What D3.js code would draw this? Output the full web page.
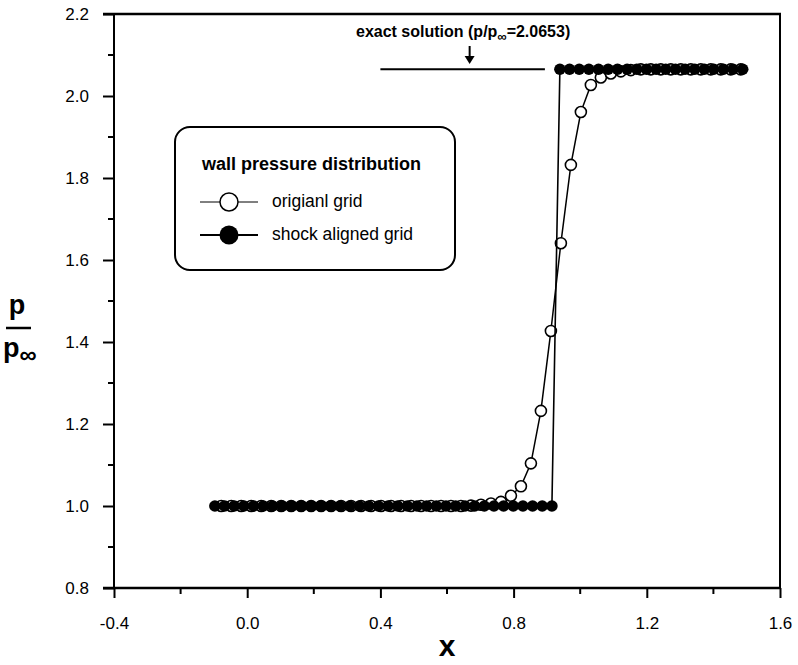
<!DOCTYPE html>
<html><head><meta charset="utf-8">
<script src="https://cdn.jsdelivr.net/npm/d3@7"></script>
<style>body{margin:0;background:#fff}svg{display:block}</style>
</head><body>
<script>
// ---- data ----
const xTicks = [-0.4, 0.0, 0.4, 0.8, 1.2, 1.6];
const xTickLabels = ["-0.4", "0.0", "0.4", "0.8", "1.2", "1.6"];
const yTicks = [0.8, 1.0, 1.2, 1.4, 1.6, 1.8, 2.0, 2.2];
const yTickLabels = ["0.8", "1.0", "1.2", "1.4", "1.6", "1.8", "2.0", "2.2"];

const shockX = [-0.097, -0.068, -0.039, -0.010, 0.019, 0.048, 0.076, 0.105, 0.134, 0.163, 0.192, 0.221,
  0.250, 0.279, 0.308, 0.337, 0.365, 0.394, 0.423, 0.452, 0.481, 0.510, 0.539, 0.568, 0.597, 0.626,
  0.654, 0.683, 0.712, 0.741, 0.770, 0.799, 0.828, 0.857, 0.886, 0.915,
  0.939, 0.968, 0.997, 1.026, 1.055, 1.084, 1.112, 1.141, 1.170, 1.199, 1.228, 1.257, 1.286, 1.315,
  1.344, 1.373, 1.401, 1.430, 1.459, 1.488];
const shockY = [1, 1, 1, 1, 1, 1, 1, 1, 1, 1, 1, 1, 1, 1, 1, 1, 1, 1, 1, 1, 1, 1, 1, 1, 1, 1,
  1, 1, 1, 1, 1, 1, 1, 1, 1, 1,
  2.0653, 2.0653, 2.0653, 2.0653, 2.0653, 2.0653, 2.0653, 2.0653, 2.0653, 2.0653, 2.0653, 2.0653,
  2.0653, 2.0653, 2.0653, 2.0653, 2.0653, 2.0653, 2.0653, 2.0653];

const origX = [-0.078, -0.048, -0.018, 0.012, 0.042, 0.072, 0.102, 0.132, 0.162, 0.192, 0.222, 0.252,
  0.282, 0.312, 0.342, 0.372, 0.402, 0.432, 0.462, 0.492, 0.522, 0.552, 0.582, 0.612, 0.642, 0.672,
  0.702, 0.732, 0.762, 0.792, 0.822, 0.852, 0.882, 0.912, 0.942, 0.972, 1.002, 1.032, 1.062, 1.092,
  1.122, 1.152, 1.182, 1.212, 1.242, 1.272, 1.302, 1.332, 1.362, 1.392, 1.422, 1.452, 1.482];
const origY = [1, 1, 1, 1, 1, 1, 1, 1, 1, 1, 1, 1, 1, 1, 1, 1, 1, 1, 1, 1, 1, 1, 1, 1, 1, 1.001,
  1.003, 1.006, 1.010, 1.025, 1.048, 1.104, 1.232, 1.427, 1.641, 1.832, 1.961, 2.027, 2.045, 2.055,
  2.060, 2.063, 2.065, 2.065, 2.065, 2.065, 2.065, 2.065, 2.065, 2.065, 2.065, 2.065, 2.065];

const exactValue = 2.0653;
const exactRange = [0.4, 0.894];
const arrowX = 0.668;
const legendTitle = "wall pressure distribution";
const legendLabels = ["origianl grid", "shock aligned grid"];

// ---- layout ----
const W = 798, H = 665;
const L = 114, R = 780, T = 14, B = 588;
const FONT = "'Liberation Sans', Arial, Helvetica, sans-serif";

const svg = d3.select("body").append("svg").attr("width", W).attr("height", H)
  .style("font-family", FONT);

const x = d3.scaleLinear().domain([-0.4, 1.6]).range([L, R]);
const y = d3.scaleLinear().domain([0.8, 2.2]).range([B, T]);

const xMinor = [-0.2, 0.2, 0.6, 1.0, 1.4];
const yMinor = [0.9, 1.1, 1.3, 1.5, 1.7, 1.9, 2.1];

const gx = svg.append("g").attr("transform", `translate(0,${B})`)
  .call(d3.axisBottom(x).tickValues(xTicks).tickFormat((d, i) => xTickLabels[i])
    .tickSize(10).tickPadding(19).tickSizeOuter(0));
gx.select(".domain").remove();
gx.selectAll(".tick line").attr("stroke", "#000").attr("stroke-width", 2);
gx.selectAll(".tick text").attr("font-size", 17).attr("fill", "#000").attr("font-family", FONT).attr("dy", "0").attr("y", 41);
svg.append("g").selectAll("line").data(xMinor).join("line")
  .attr("x1", d => x(d)).attr("x2", d => x(d)).attr("y1", B).attr("y2", B + 6)
  .attr("stroke", "#000").attr("stroke-width", 2);

const gy = svg.append("g").attr("transform", `translate(${L},0)`)
  .call(d3.axisLeft(y).tickValues(yTicks).tickFormat((d, i) => yTickLabels[i])
    .tickSize(11).tickPadding(14).tickSizeOuter(0));
gy.select(".domain").remove();
gy.selectAll(".tick line").attr("stroke", "#000").attr("stroke-width", 2);
gy.selectAll(".tick text").attr("font-size", 17).attr("fill", "#000").attr("font-family", FONT);
svg.append("g").selectAll("line").data(yMinor).join("line")
  .attr("x1", L - 6).attr("x2", L).attr("y1", d => y(d)).attr("y2", d => y(d))
  .attr("stroke", "#000").attr("stroke-width", 2);

// frame
svg.append("line").attr("x1", L).attr("x2", L).attr("y1", T).attr("y2", B).attr("stroke", "#000").attr("stroke-width", 2);
svg.append("line").attr("x1", R).attr("x2", R).attr("y1", T).attr("y2", B).attr("stroke", "#000").attr("stroke-width", 2);
svg.append("line").attr("x1", L - 11).attr("x2", R + 1).attr("y1", T).attr("y2", T).attr("stroke", "#000").attr("stroke-width", 2.5);
svg.append("line").attr("x1", L - 11).attr("x2", R + 1).attr("y1", B).attr("y2", B).attr("stroke", "#000").attr("stroke-width", 2.5);

// axis titles
svg.append("text").attr("x", (L + R) / 2).attr("y", 656).attr("text-anchor", "middle")
  .attr("font-size", 30).attr("font-weight", "bold").text("x");
svg.append("text").attr("x", 17).attr("y", 314).attr("text-anchor", "middle")
  .attr("font-size", 27).attr("font-weight", "bold").text("p");
svg.append("line").attr("x1", 6).attr("x2", 31).attr("y1", 328).attr("y2", 328).attr("stroke", "#000").attr("stroke-width", 2.5);
const yl = svg.append("text").attr("x", 3).attr("y", 357).attr("font-size", 27).attr("font-weight", "bold");
yl.append("tspan").text("p");
yl.append("tspan").attr("font-size", 24).attr("dy", 6).text("∞");

// exact solution annotation
svg.append("line").attr("x1", x(exactRange[0])).attr("x2", x(exactRange[1]))
  .attr("y1", y(exactValue)).attr("y2", y(exactValue)).attr("stroke", "#000").attr("stroke-width", 2);
svg.append("line").attr("x1", x(arrowX)).attr("x2", x(arrowX)).attr("y1", 46).attr("y2", 58)
  .attr("stroke", "#000").attr("stroke-width", 2);
svg.append("path").attr("d", `M${x(arrowX) - 5},56 L${x(arrowX) + 5},56 L${x(arrowX)},64 Z`).attr("fill", "#000");
const ann = svg.append("text").attr("x", 356).attr("y", 37).attr("font-size", 16).attr("font-weight", "bold");
ann.append("tspan").text("exact solution (p/p");
ann.append("tspan").attr("font-size", 13).attr("dy", 4).text("∞");
ann.append("tspan").attr("dy", -4).text("=2.0653)");

// series
const line = d3.line().x(d => x(d[0])).y(d => y(d[1]));
const orig = origX.map((v, i) => [v, origY[i]]);
const shock = shockX.map((v, i) => [v, shockY[i]]);

svg.append("path").datum(orig).attr("d", line).attr("fill", "none").attr("stroke", "#000").attr("stroke-width", 1.5);
svg.append("g").selectAll("circle").data(orig).join("circle")
  .attr("cx", d => x(d[0])).attr("cy", d => y(d[1])).attr("r", 5.5)
  .attr("fill", "#fff").attr("stroke", "#000").attr("stroke-width", 1.6);

svg.append("path").datum(shock).attr("d", line).attr("fill", "none").attr("stroke", "#000").attr("stroke-width", 1.6);
svg.append("g").selectAll("circle").data(shock).join("circle")
  .attr("cx", d => x(d[0])).attr("cy", d => y(d[1])).attr("r", 5.8).attr("fill", "#000");

// legend
const lg = svg.append("g");
lg.append("rect").attr("x", 175).attr("y", 127).attr("width", 280).attr("height", 143).attr("rx", 15)
  .attr("fill", "#fff").attr("stroke", "#000").attr("stroke-width", 2);
lg.append("text").attr("x", 202).attr("y", 170).attr("font-size", 18).attr("font-weight", "bold").text(legendTitle);
lg.append("line").attr("x1", 200).attr("x2", 258).attr("y1", 202).attr("y2", 202).attr("stroke", "#000").attr("stroke-width", 1);
lg.append("circle").attr("cx", 229).attr("cy", 202).attr("r", 9).attr("fill", "#fff").attr("stroke", "#000").attr("stroke-width", 1.5);
lg.append("text").attr("x", 272).attr("y", 207).attr("font-size", 17.5).text(legendLabels[0]);
lg.append("line").attr("x1", 200).attr("x2", 258).attr("y1", 235).attr("y2", 235).attr("stroke", "#000").attr("stroke-width", 2);
lg.append("circle").attr("cx", 229).attr("cy", 235).attr("r", 9.5).attr("fill", "#000");
lg.append("text").attr("x", 272).attr("y", 240).attr("font-size", 17.5).text(legendLabels[1]);
</script>
</body></html>
